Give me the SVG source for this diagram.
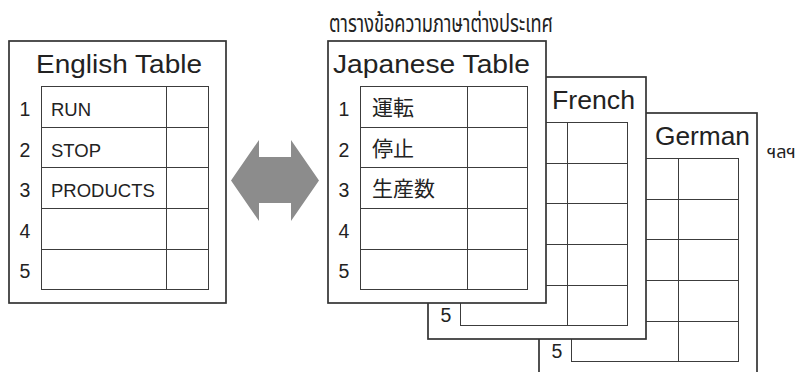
<svg xmlns="http://www.w3.org/2000/svg" width="802" height="372" viewBox="0 0 802 372">
<style>
.card{fill:#fff;stroke:#333;stroke-width:1.7}
.grid{fill:none;stroke:#3c3c3c;stroke-width:1}
.ttl{font-family:"Liberation Sans",Arial,sans-serif;font-size:26px;fill:#222}
.num{font-family:"Liberation Sans",Arial,sans-serif;font-size:19.5px;fill:#222;text-anchor:middle}
.cell{font-family:"Liberation Sans",Arial,sans-serif;font-size:18.5px;fill:#222}
.cjk{font-family:"Noto Sans CJK JP","Noto Sans CJK SC",sans-serif;font-size:21px;fill:#222}
.thai{font-family:"Noto Sans Thai","Noto Sans","DejaVu Sans",sans-serif;font-size:24px;fill:#222}
.etc{font-family:"Noto Sans Thai","Noto Sans","DejaVu Sans",sans-serif;font-size:18px;fill:#222}
</style>
<rect width="802" height="372" fill="#fff"/>

<g id="german-table">
<rect class="card" x="539" y="113" width="218" height="262"/>
<rect class="grid" x="571.5" y="158.5" width="167" height="203"/>
<path class="grid" d="M571 199.5H738M571 239.5H738M571 280.5H738M571 321.5H738M678.5 158V361"/>
<text class="ttl" x="655" y="145" textLength="95" lengthAdjust="spacingAndGlyphs">German</text>
<text class="num" x="557" y="358">5</text>
</g>

<g id="french-table">
<rect class="card" x="428" y="77" width="218" height="262"/>
<rect class="grid" x="460.5" y="122.5" width="167" height="203"/>
<path class="grid" d="M460 163.5H627M460 203.5H627M460 244.5H627M460 285.5H627M567.5 122V325"/>
<text class="ttl" x="552" y="109" textLength="83" lengthAdjust="spacingAndGlyphs">French</text>
<text class="num" x="446" y="322">5</text>
</g>

<g id="japanese-table">
<rect class="card" x="328" y="41" width="218" height="262"/>
<rect class="grid" x="360.5" y="86.5" width="167" height="203"/>
<path class="grid" d="M360 127.5H527M360 167.5H527M360 208.5H527M360 249.5H527M467.5 86V289"/>
<text class="ttl" x="333" y="73" textLength="197" lengthAdjust="spacingAndGlyphs">Japanese Table</text>
<text class="num" x="344" y="116">1</text>
<text class="num" x="344" y="157">2</text>
<text class="num" x="344" y="197">3</text>
<text class="num" x="344" y="238">4</text>
<text class="num" x="344" y="278">5</text>
<text class="cjk" x="372" y="115">運転</text>
<text class="cjk" x="372" y="156">停止</text>
<text class="cjk" x="372" y="196">生産数</text>
</g>

<g id="english-table">
<rect class="card" x="9" y="41" width="217" height="262"/>
<rect class="grid" x="41.5" y="86.5" width="167" height="203"/>
<path class="grid" d="M41 127.5H208M41 167.5H208M41 208.5H208M41 249.5H208M166.5 86V289"/>
<text class="ttl" x="36" y="73" textLength="166" lengthAdjust="spacingAndGlyphs">English Table</text>
<text class="num" x="25" y="116">1</text>
<text class="num" x="25" y="157">2</text>
<text class="num" x="25" y="197">3</text>
<text class="num" x="25" y="238">4</text>
<text class="num" x="25" y="278">5</text>
<text class="cell" x="51" y="116">RUN</text>
<text class="cell" x="51" y="157">STOP</text>
<text class="cell" x="51" y="197">PRODUCTS</text>
</g>

<g id="labels">
<text class="etc" x="767" y="158">ฯลฯ</text>
<text class="thai" x="329" y="32" textLength="224" lengthAdjust="spacingAndGlyphs">ตารางข้อความภาษาต่างประเทศ</text>
</g>

<g id="connectors">
<polygon points="231,180.5 259,140 259,157 291,157 291,140 319,180.5 291,221 291,203 259,203 259,221" fill="#8c8c8c"/>
</g>
</svg>
